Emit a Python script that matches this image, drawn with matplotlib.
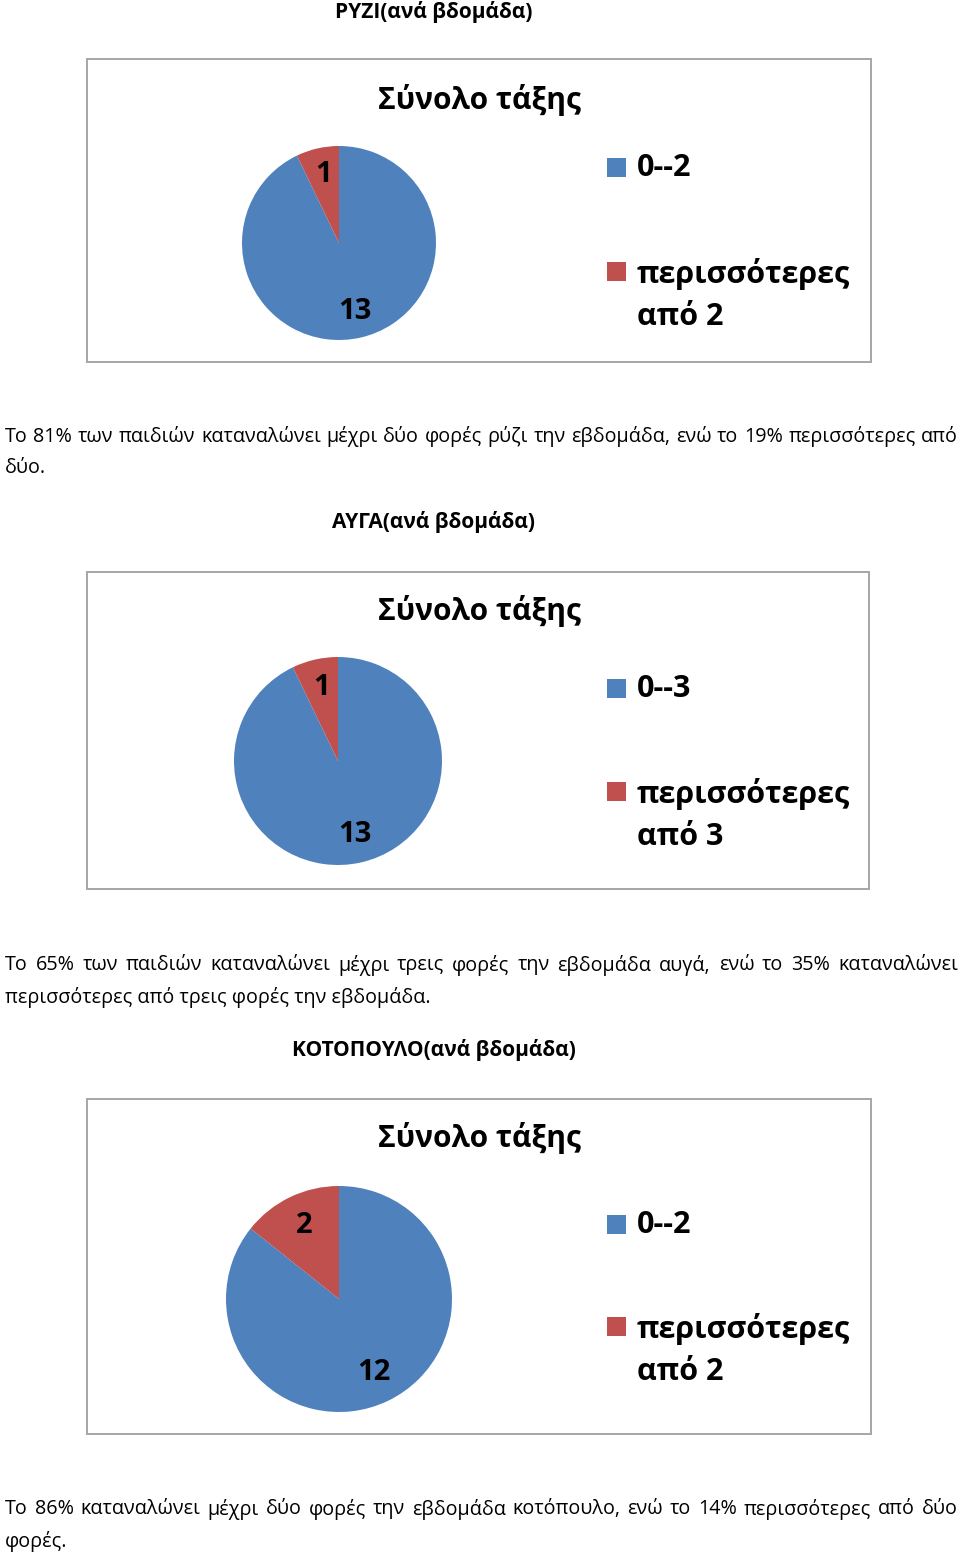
import matplotlib
matplotlib.use('Agg')
import matplotlib.pyplot as plt
from matplotlib.patches import Rectangle

plt.rcParams['font.family'] = ['Open Sans', 'DejaVu Sans']

# data
titles = ['ΡΥΖΙ(ανά βδομάδα)', 'ΑΥΓΑ(ανά βδομάδα)', 'ΚΟΤΟΠΟΥΛΟ(ανά βδομάδα)']
rice_counts = [13, 1]
egg_counts = [13, 1]
chicken_counts = [12, 2]
rice_labels = ['0--2', 'περισσότερες\nαπό 2']
egg_labels = ['0--3', 'περισσότερες\nαπό 3']
chicken_labels = ['0--2', 'περισσότερες\nαπό 2']
chart_title = 'Σύνολο τάξης'
notes = [
    ['Το 81% των παιδιών καταναλώνει μέχρι δύο φορές ρύζι την εβδομάδα, ενώ το 19% περισσότερες από', 'δύο.'],
    ['Το 65% των παιδιών καταναλώνει μέχρι τρεις φορές την εβδομάδα αυγά, ενώ το 35% καταναλώνει',
     'περισσότερες από τρεις φορές την εβδομάδα.'],
    ['Το 86% καταναλώνει μέχρι δύο φορές την εβδομάδα κοτόπουλο, ενώ το 14% περισσότερες από δύο', 'φορές.'],
]
colors = ['#4F81BD', '#C0504D']

W, H = 960, 1554
fig = plt.figure(figsize=(W / 100, H / 100), dpi=100)
fig.patch.set_facecolor('white')
rend = fig.canvas.get_renderer()


def fx(x):
    return x / W


def fy(y):
    return 1 - y / H


def text_line(s, y, justify=False, x0=5, x1=958, size=14.2):
    if not justify:
        fig.text(fx(x0), fy(y), s, fontsize=size, va='center', ha='left')
        return
    words = s.split()
    ts = [fig.text(0, fy(y), w, fontsize=size, va='center', ha='left') for w in words]
    widths = [t.get_window_extent(rend).width for t in ts]
    gap = (x1 - x0 - sum(widths)) / (len(words) - 1)
    x = x0
    for t, w in zip(ts, widths):
        t.set_x(fx(x))
        x += w + gap


# layout per chart (pixels): title y, box, pie centre/radius, legend rows, note lines
layout = [
    dict(ty=12, box=(87, 59, 871, 362), pie=(339, 243, 97), st=100, leg=(168, 295), notes=(437, 468)),
    dict(ty=522, box=(87, 572, 869, 889), pie=(338, 761, 104), st=611, leg=(689, 815), notes=(965, 997)),
    dict(ty=1050, box=(87, 1099, 871, 1434), pie=(339, 1299, 113), st=1138, leg=(1225, 1350), notes=(1509, 1541)),
]
all_counts = [rice_counts, egg_counts, chicken_counts]
all_labels = [rice_labels, egg_labels, chicken_labels]

for i, lay in enumerate(layout):
    counts = all_counts[i]
    labels = all_labels[i]
    fig.text(0.452, fy(lay['ty']), titles[i], fontsize=15, fontweight='bold', ha='center', va='center')

    x0, y0, x1, y1 = lay['box']
    fig.patches.append(Rectangle((fx(x0), fy(y1)), fx(x1 - x0), (y1 - y0) / H,
                                 transform=fig.transFigure, fill=False,
                                 edgecolor='#a6a6a6', linewidth=1.4))
    fig.text(fx(479), fy(lay['st']), chart_title, fontsize=21.5, fontweight='bold', ha='center', va='center')

    cx, cy, r = lay['pie']
    ax = fig.add_axes([fx(cx - r), fy(cy + r), 2 * r / W, 2 * r / H])
    ax.pie(counts, colors=colors, startangle=90, counterclock=False,
           autopct=lambda p, c=counts: '%d' % round(p * sum(c) / 100),
           pctdistance=0.72, textprops=dict(fontsize=21, fontweight='bold'),
           wedgeprops=dict(linewidth=0))
    ax.set_xlim(-1, 1)
    ax.set_ylim(-1, 1)

    for j, lab in enumerate(labels):
        ly = lay['leg'][j]
        sq_top = lay['leg'][0] - 10 if j == 0 else ly - 33
        fig.patches.append(Rectangle((fx(607), fy(sq_top + 19)), 19 / W, 19 / H,
                                     transform=fig.transFigure, facecolor=colors[j], edgecolor='none'))
        fig.text(fx(637), fy(ly), lab, fontsize=22, fontweight='bold', ha='left', va='center',
                 linespacing=1.5)

    n1, n2 = lay['notes']
    text_line(notes[i][0], n1, justify=True)
    text_line(notes[i][1], n2)

fig.savefig('out.png', dpi=100)
